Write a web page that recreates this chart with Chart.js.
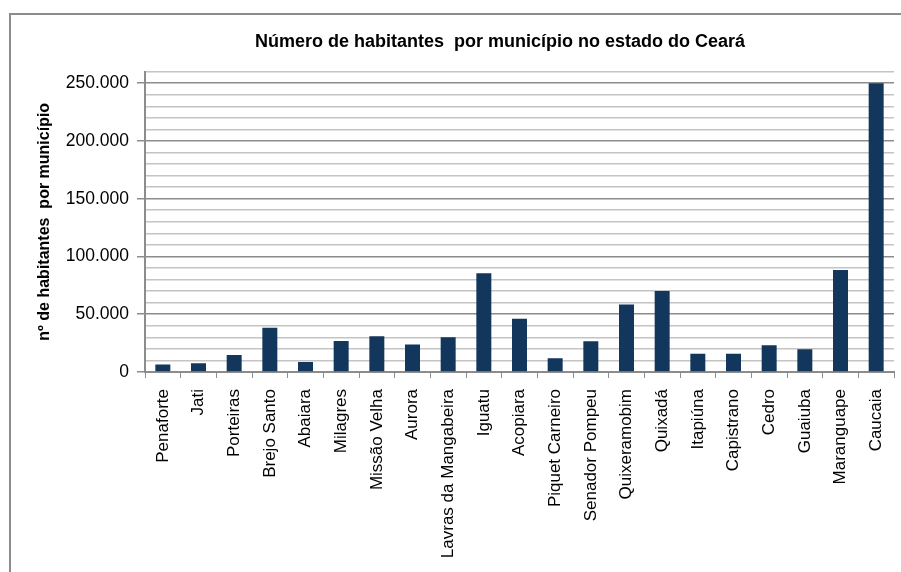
<!DOCTYPE html>
<html><head><meta charset="utf-8">
<script src="https://cdn.jsdelivr.net/npm/chart.js@4/dist/chart.umd.min.js"></script>
<style>
html,body{margin:0;padding:0;background:#fff;}
#wrap{position:relative;width:901px;height:572px;}
#frame{position:absolute;left:9px;top:13px;width:900px;height:600px;border-left:2px solid #8c8c8c;border-top:2px solid #8c8c8c;box-sizing:border-box;}
canvas{position:absolute;left:0;top:0;}
</style></head>
<body>
<div id="wrap"><div id="frame"></div><canvas id="c" width="901" height="572"></canvas></div>
<script>
const categories = ["Penaforte","Jati","Porteiras","Brejo Santo","Abaiara","Milagres","Missão Velha","Aurora","Lavras da Mangabeira","Iguatu","Acopiara","Piquet Carneiro","Senador Pompeu","Quixeramobim","Quixadá","Itapiúna","Capistrano","Cedro","Guaiuba","Maranguape","Caucaia"];
const habitantes = [6400,7500,14800,38200,8700,26900,31000,23700,30100,85400,46000,11900,26600,58500,70000,15900,15900,23100,19700,88300,250000];
const yMax = 260000;
const yStep = 10000;
const yLabelStep = 50000;

function fmt(v){ return String(v).replace(/\B(?=(\d{3})+(?!\d))/g, "."); }

const titleShift = {
  id: 'titleShift',
  afterLayout(chart){
    const t = chart.titleBlock;
    if (t) { t.left = 99; t.right = 901; t.width = 802; }
  }
};

const FONT = 'Arial, "Liberation Sans", sans-serif';

new Chart(document.getElementById('c'), {
  type: 'bar',
  data: { labels: categories, datasets: [{ data: habitantes, backgroundColor: '#12365c', borderWidth: 0, barPercentage: 0.42, categoryPercentage: 1 }] },
  plugins: [titleShift],
  options: {
    responsive: false, animation: false,
    layout: { padding: { left: 0, right: 7, top: 0, bottom: 0 } },
    plugins: {
      legend: { display: false }, tooltip: { enabled: false },
      title: { display: true, text: 'Número de habitantes  por município no estado do Ceará', color: '#000',
        font: { family: FONT, size: 18, weight: 'bold' }, padding: { top: 31, bottom: 19 } }
    },
    scales: {
      x: {
        grid: { offset: true, drawOnChartArea: false, color: '#8c8c8c', tickLength: 6, lineWidth: 1 },
        border: { color: '#8c8c8c', width: 2 },
        ticks: { color: '#000', font: { family: FONT, size: 17 }, minRotation: 90, maxRotation: 90, autoSkip: false, padding: 11 },
        afterFit: s => { s.height = 200; s.paddingLeft = 0; s.paddingRight = 0; }
      },
      y: {
        min: 0, max: yMax,
        title: { display: true, text: 'nº de habitantes  por município', color: '#000', font: { family: FONT, size: 16, weight: 'bold' }, padding: { top: 35, bottom: 0 } },
        grid: {
          color: c => (c.tick && c.tick.value % yLabelStep === 0) ? '#8c8c8c' : '#c4c4c4',
          tickColor: c => (c.tick && c.tick.value % yLabelStep === 0) ? '#8c8c8c' : 'rgba(0,0,0,0)',
          lineWidth: 1.5, tickLength: 8
        },
        border: { color: '#8c8c8c', width: 2 },
        ticks: { stepSize: yStep, autoSkip: false, color: '#000', font: { family: FONT, size: 17.5 }, padding: 8,
          callback: v => (v % yLabelStep === 0) ? fmt(v) : '' },
        afterFit: s => { s.width = 145; }
      }
    }
  }
});
</script>
</body></html>
